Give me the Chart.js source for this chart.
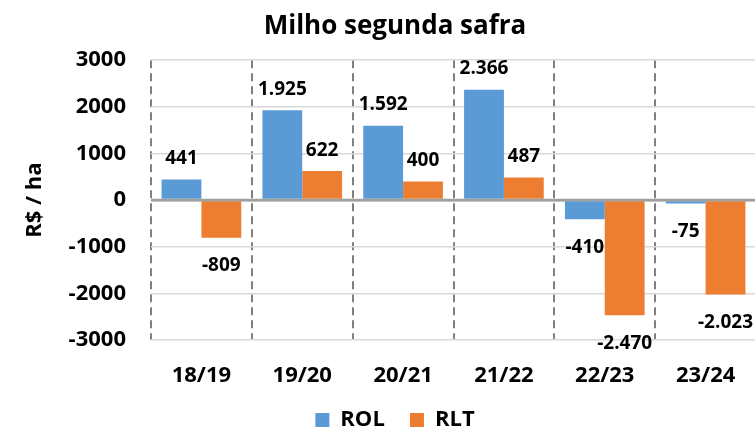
<!DOCTYPE html>
<html>
<head>
<meta charset="utf-8">
<script src="https://cdn.jsdelivr.net/npm/chart.js@4.4.1/dist/chart.umd.min.js"></script>
<style>
  html, body { margin: 0; padding: 0; background: #fff; overflow: hidden; }
  #wrap { width: 790px; height: 441px; }
</style>
</head>
<body>
<div id="wrap"><canvas id="grafico" width="790" height="441"></canvas></div>
<script>
const safras = ["18/19", "19/20", "20/21", "21/22", "22/23", "23/24"];
const rol = [441, 1925, 1592, 2366, -410, -75];
const rlt = [-809, 622, 400, 487, -2470, -2023];
const yTicks = [-3000, -2000, -1000, 0, 1000, 2000, 3000];

const fonte = "'Open Sans', 'DejaVu Sans', sans-serif";

function formatar(v) {
  const s = String(Math.abs(v)).replace(/\B(?=(\d{3})+(?!\d))/g, ".");
  return (v < 0 ? "-" : "") + s;
}

// linha do zero por cima das barras + rotulos de dados
const rotulos = {
  id: "rotulos",
  afterDatasetsDraw(chart) {
    const ctx = chart.ctx;
    const area = chart.chartArea;
    const y0 = chart.scales.y.getPixelForValue(0);
    ctx.save();
    ctx.strokeStyle = "#a0a0a0";
    ctx.lineWidth = 2.5;
    ctx.beginPath();
    ctx.moveTo(area.left, y0);
    ctx.lineTo(area.right, y0);
    ctx.stroke();

    ctx.font = "bold 19px " + fonte;
    ctx.fillStyle = "#000";
    ctx.textAlign = "center";
    ctx.textBaseline = "middle";
    chart.data.datasets.forEach((ds, i) => {
      chart.getDatasetMeta(i).data.forEach((bar, j) => {
        const v = ds.data[j];
        const y = v >= 0 ? bar.y - 21 : bar.y + 28;
        ctx.fillText(formatar(v), bar.x, y);
      });
    });
    ctx.restore();
  }
};

new Chart(document.getElementById("grafico"), {
  type: "bar",
  data: {
    labels: safras,
    datasets: [
      { label: "ROL", data: rol, backgroundColor: "#5B9BD5", categoryPercentage: 0.79, barPercentage: 1 },
      { label: "RLT", data: rlt, backgroundColor: "#ED7D31", categoryPercentage: 0.79, barPercentage: 1 }
    ]
  },
  options: {
    responsive: false,
    animation: false,
    layout: { padding: 0 },
    plugins: {
      title: {
        display: true,
        text: "Milho segunda safra",
        color: "#000",
        font: { family: fonte, size: 26, weight: "bold" },
        padding: { top: 11, bottom: 18 }
      },
      legend: {
        position: "bottom",
        labels: {
          color: "#000",
          font: { family: fonte, size: 22, weight: "bold" },
          boxWidth: 14,
          boxHeight: 14,
          padding: 8,
          // espaco extra entre os dois itens
          generateLabels: chart => Chart.defaults.plugins.legend.labels.generateLabels(chart)
            .map((it, i) => Object.assign(it, { text: i === 0 ? it.text + "   " : it.text }))
        }
      },
      tooltip: { enabled: false }
    },
    scales: {
      x: {
        afterFit: s => { s.height = 61; },
        grid: { color: "#808080", lineWidth: 2, drawTicks: false, offset: true },
        border: { display: false, dash: [8, 5] },
        ticks: { color: "#000", font: { family: fonte, size: 22, weight: "bold" }, padding: 23 }
      },
      y: {
        min: -3000,
        max: 3000,
        afterBuildTicks: s => { s.ticks = yTicks.map(v => ({ value: v })); },
        afterFit: s => { s.width = 151; },
        grid: {
          drawTicks: false,
          color: c => c.tick && c.tick.value === 0 ? "#a0a0a0" : "#d9d9d9",
          lineWidth: c => c.tick && c.tick.value === 0 ? 2.5 : 1.5
        },
        border: { display: false },
        ticks: {
          color: "#000",
          font: { family: fonte, size: 22, weight: "bold" },
          padding: 25,
          callback: v => String(v)
        },
        title: {
          display: true,
          text: "R$ / ha",
          color: "#000",
          font: { family: fonte, size: 22, weight: "bold" },
          padding: { top: 22, bottom: 0 }
        }
      },
      margem: {
        position: "right",
        display: true,
        afterFit: s => { s.width = 34; },
        grid: { display: false, drawOnChartArea: false, drawTicks: false },
        border: { display: false },
        ticks: { display: false }
      }
    }
  },
  plugins: [rotulos]
});
</script>
</body>
</html>
